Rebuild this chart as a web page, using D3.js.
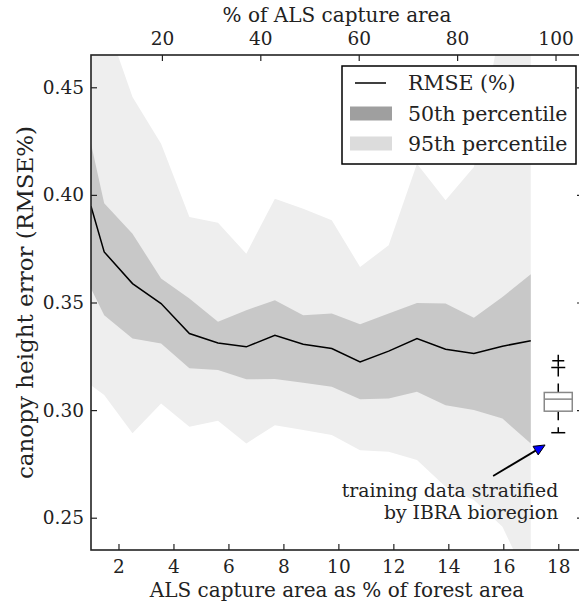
<!DOCTYPE html>
<html>
<head>
<meta charset="utf-8">
<script src="https://cdn.jsdelivr.net/npm/d3@7/dist/d3.min.js"></script>
<style>
  html, body { margin: 0; padding: 0; background: #fff; }
  svg text { font-family: "DejaVu Serif", serif; fill: #222; }
</style>
</head>
<body>
<svg id="chart" width="579" height="606"></svg>
<script>
// ALS capture area as % of forest area
const forestPct = [1.0, 1.48, 2.51, 3.55, 4.58, 5.62, 6.65, 7.69, 8.72, 9.76, 10.79, 11.83, 12.86, 13.90, 14.93, 15.97, 17.0];
// mean RMSE and percentile envelopes
const rmse    = [0.3947, 0.3735, 0.3588, 0.3495, 0.3356, 0.3312, 0.3294, 0.3348, 0.3306, 0.3286, 0.3224, 0.3274, 0.3333, 0.3283, 0.3263, 0.3297, 0.3322];
const upper50 = [0.4238, 0.3961, 0.3820, 0.3611, 0.3519, 0.3410, 0.3464, 0.3511, 0.3441, 0.3449, 0.3399, 0.3449, 0.3498, 0.3495, 0.3429, 0.3526, 0.3631];
const lower50 = [0.3565, 0.3441, 0.3333, 0.3310, 0.3194, 0.3186, 0.3143, 0.3144, 0.3127, 0.3108, 0.3050, 0.3054, 0.3085, 0.3023, 0.3000, 0.2961, 0.2845];
const upper95 = [0.5000, 0.4830, 0.4455, 0.4238, 0.3897, 0.3870, 0.3727, 0.3982, 0.3936, 0.3882, 0.3665, 0.3766, 0.4145, 0.3975, 0.4130, 0.4830, 0.4900];
const lower95 = [0.3116, 0.3070, 0.2892, 0.3031, 0.2923, 0.2950, 0.2845, 0.2930, 0.2907, 0.2884, 0.2814, 0.2806, 0.2768, 0.2644, 0.2582, 0.2458, 0.2180];

// stratified training data (IBRA bioregion) summary at x = 18
const stratX = 18;
const stratBox = { whiskerLow: 0.2895, q1: 0.2995, median: 0.3051, q3: 0.3082, whiskerHigh: 0.3198 };
const stratFliers = [0.3229];

// forest % that corresponds to 100 % of ALS capture area
const captureFull = 17.9;

const bottomTicks = [2, 4, 6, 8, 10, 12, 14, 16, 18];
const topTicks = [20, 40, 60, 80, 100];
const yTicks = [0.25, 0.30, 0.35, 0.40, 0.45];

const legendItems = ["RMSE (%)", "50th percentile", "95th percentile"];

const svg = d3.select("#chart");
const L = 91, R = 583, T = 55, B = 550;

const x = d3.scaleLinear().domain([1.0, 18.9]).range([L, R]);
const xTop = d3.scaleLinear().domain(x.domain().map(d => d / captureFull * 100)).range([L, R]);
const y = d3.scaleLinear().domain([0.235, 0.465]).range([B, T]);

svg.append("defs").append("clipPath").attr("id", "plotclip")
  .append("rect").attr("x", L).attr("y", T).attr("width", R - L).attr("height", B - T);

const rows = forestPct.map((f, i) => ({ f, m: rmse[i], u50: upper50[i], l50: lower50[i], u95: upper95[i], l95: lower95[i] }));

const plot = svg.append("g").attr("clip-path", "url(#plotclip)");

plot.append("path").datum(rows)
  .attr("fill", "#eeeeee")
  .attr("d", d3.area().x(d => x(d.f)).y0(d => y(d.l95)).y1(d => y(d.u95)));

plot.append("path").datum(rows)
  .attr("fill", "#c8c8c8")
  .attr("d", d3.area().x(d => x(d.f)).y0(d => y(d.l50)).y1(d => y(d.u50)));

plot.append("path").datum(rows)
  .attr("fill", "none").attr("stroke", "#000").attr("stroke-width", 1.5)
  .attr("d", d3.line().x(d => x(d.f)).y(d => y(d.m)));

// boxplot for the stratified training data
const bx = x(stratX), bw = 14;
const box = svg.append("g");
box.append("line").attr("x1", bx).attr("x2", bx)
  .attr("y1", y(stratBox.q3)).attr("y2", y(stratBox.whiskerHigh))
  .attr("stroke", "#000").attr("stroke-width", 1.5).attr("stroke-dasharray", "9,7");
box.append("line").attr("x1", bx).attr("x2", bx)
  .attr("y1", y(stratBox.q1)).attr("y2", y(stratBox.whiskerLow))
  .attr("stroke", "#000").attr("stroke-width", 1.5).attr("stroke-dasharray", "9,7");
[stratBox.whiskerLow, stratBox.whiskerHigh].forEach(v => {
  box.append("line").attr("x1", bx - 7).attr("x2", bx + 7)
    .attr("y1", y(v)).attr("y2", y(v)).attr("stroke", "#000").attr("stroke-width", 1.5);
});
box.append("rect").attr("x", bx - bw).attr("width", 2 * bw)
  .attr("y", y(stratBox.q3)).attr("height", y(stratBox.q1) - y(stratBox.q3))
  .attr("fill", "#fff").attr("stroke", "#888").attr("stroke-width", 1.5);
box.append("line").attr("x1", bx - bw).attr("x2", bx + bw)
  .attr("y1", y(stratBox.median)).attr("y2", y(stratBox.median))
  .attr("stroke", "#888").attr("stroke-width", 1.5);
stratFliers.forEach(v => {
  box.append("path").attr("d", `M${bx - 6},${y(v)}H${bx + 6}M${bx},${y(v) - 6}V${y(v) + 6}`)
    .attr("stroke", "#000").attr("stroke-width", 1.5);
});

// axes with inward ticks on all four sides
const axisStyle = g => {
  g.select(".domain").remove();
  g.selectAll(".tick line").attr("stroke", "#222").attr("stroke-width", 1.2);
  g.selectAll(".tick text").attr("font-family", "DejaVu Serif").attr("font-size", 18.5).attr("fill", "#222");
};
svg.append("g").attr("transform", `translate(0,${B})`)
  .call(d3.axisBottom(x).tickValues(bottomTicks).tickSize(-6).tickPadding(10).tickFormat(d3.format("d")))
  .call(axisStyle);
svg.append("g").attr("transform", `translate(0,${T})`)
  .call(d3.axisTop(xTop).tickValues(topTicks).tickSize(-6).tickPadding(10).tickFormat(d3.format("d")))
  .call(axisStyle);
svg.append("g").attr("transform", `translate(${L},0)`)
  .call(d3.axisLeft(y).tickValues(yTicks).tickSize(-6).tickPadding(7).tickFormat(d3.format(".2f")))
  .call(axisStyle);
svg.append("g").attr("transform", `translate(${R},0)`)
  .call(d3.axisRight(y).tickValues(yTicks).tickSize(-6).tickFormat(""))
  .call(axisStyle);

svg.append("rect").attr("x", L).attr("y", T).attr("width", R - L).attr("height", B - T)
  .attr("fill", "none").attr("stroke", "#222").attr("stroke-width", 1.6);

// axis titles
svg.append("text").attr("x", (L + R) / 2).attr("y", 22).attr("text-anchor", "middle")
  .attr("font-size", 20).text("% of ALS capture area");
svg.append("text").attr("x", (L + R) / 2).attr("y", 597).attr("text-anchor", "middle")
  .attr("font-size", 20).text("ALS capture area as % of forest area");
svg.append("text").attr("transform", `translate(33,${(T + B) / 2}) rotate(-90)`)
  .attr("text-anchor", "middle").attr("font-size", 23).text("canopy height error (RMSE%)");

// legend
const lg = svg.append("g");
lg.append("rect").attr("x", 342).attr("y", 66).attr("width", 234).attr("height", 98)
  .attr("fill", "#fff").attr("stroke", "#000").attr("stroke-width", 1.5);
const rowY = [83, 113.5, 143.5];
lg.append("line").attr("x1", 355).attr("x2", 386).attr("y1", rowY[0]).attr("y2", rowY[0])
  .attr("stroke", "#000").attr("stroke-width", 1.5);
lg.append("rect").attr("x", 350).attr("y", rowY[1] - 7).attr("width", 42).attr("height", 14).attr("fill", "#9f9f9f");
lg.append("rect").attr("x", 350).attr("y", rowY[2] - 7).attr("width", 42).attr("height", 14).attr("fill", "#dcdcdc");
legendItems.forEach((t, i) => {
  lg.append("text").attr("x", 408).attr("y", rowY[i]).attr("dy", "0.35em")
    .attr("font-size", 20.5).text(t);
});

// annotation arrow pointing at the boxplot
const tail = [15.63, 0.2694], head = [17.52, 0.2838];
const x1 = x(tail[0]), y1 = y(tail[1]), x2 = x(head[0]), y2 = y(head[1]);
const ang = Math.atan2(y2 - y1, x2 - x1);
const hl = 11, hw = 5;
const bxh = x2 - hl * Math.cos(ang), byh = y2 - hl * Math.sin(ang);
svg.append("line").attr("x1", x1).attr("y1", y1).attr("x2", bxh).attr("y2", byh)
  .attr("stroke", "#000").attr("stroke-width", 1.8);
svg.append("path")
  .attr("d", `M${x2},${y2}L${bxh - hw * Math.sin(ang)},${byh + hw * Math.cos(ang)}L${bxh + hw * Math.sin(ang)},${byh - hw * Math.cos(ang)}Z`)
  .attr("fill", "#0000ff").attr("stroke", "#000").attr("stroke-width", 1);
const ann = svg.append("text").attr("x", x(stratX)).attr("y", 497).attr("text-anchor", "end").attr("font-size", 18.8);
ann.append("tspan").attr("x", x(stratX)).text("training data stratified");
ann.append("tspan").attr("x", x(stratX)).attr("dy", 21.5).text("by IBRA bioregion");
</script>
</body>
</html>
